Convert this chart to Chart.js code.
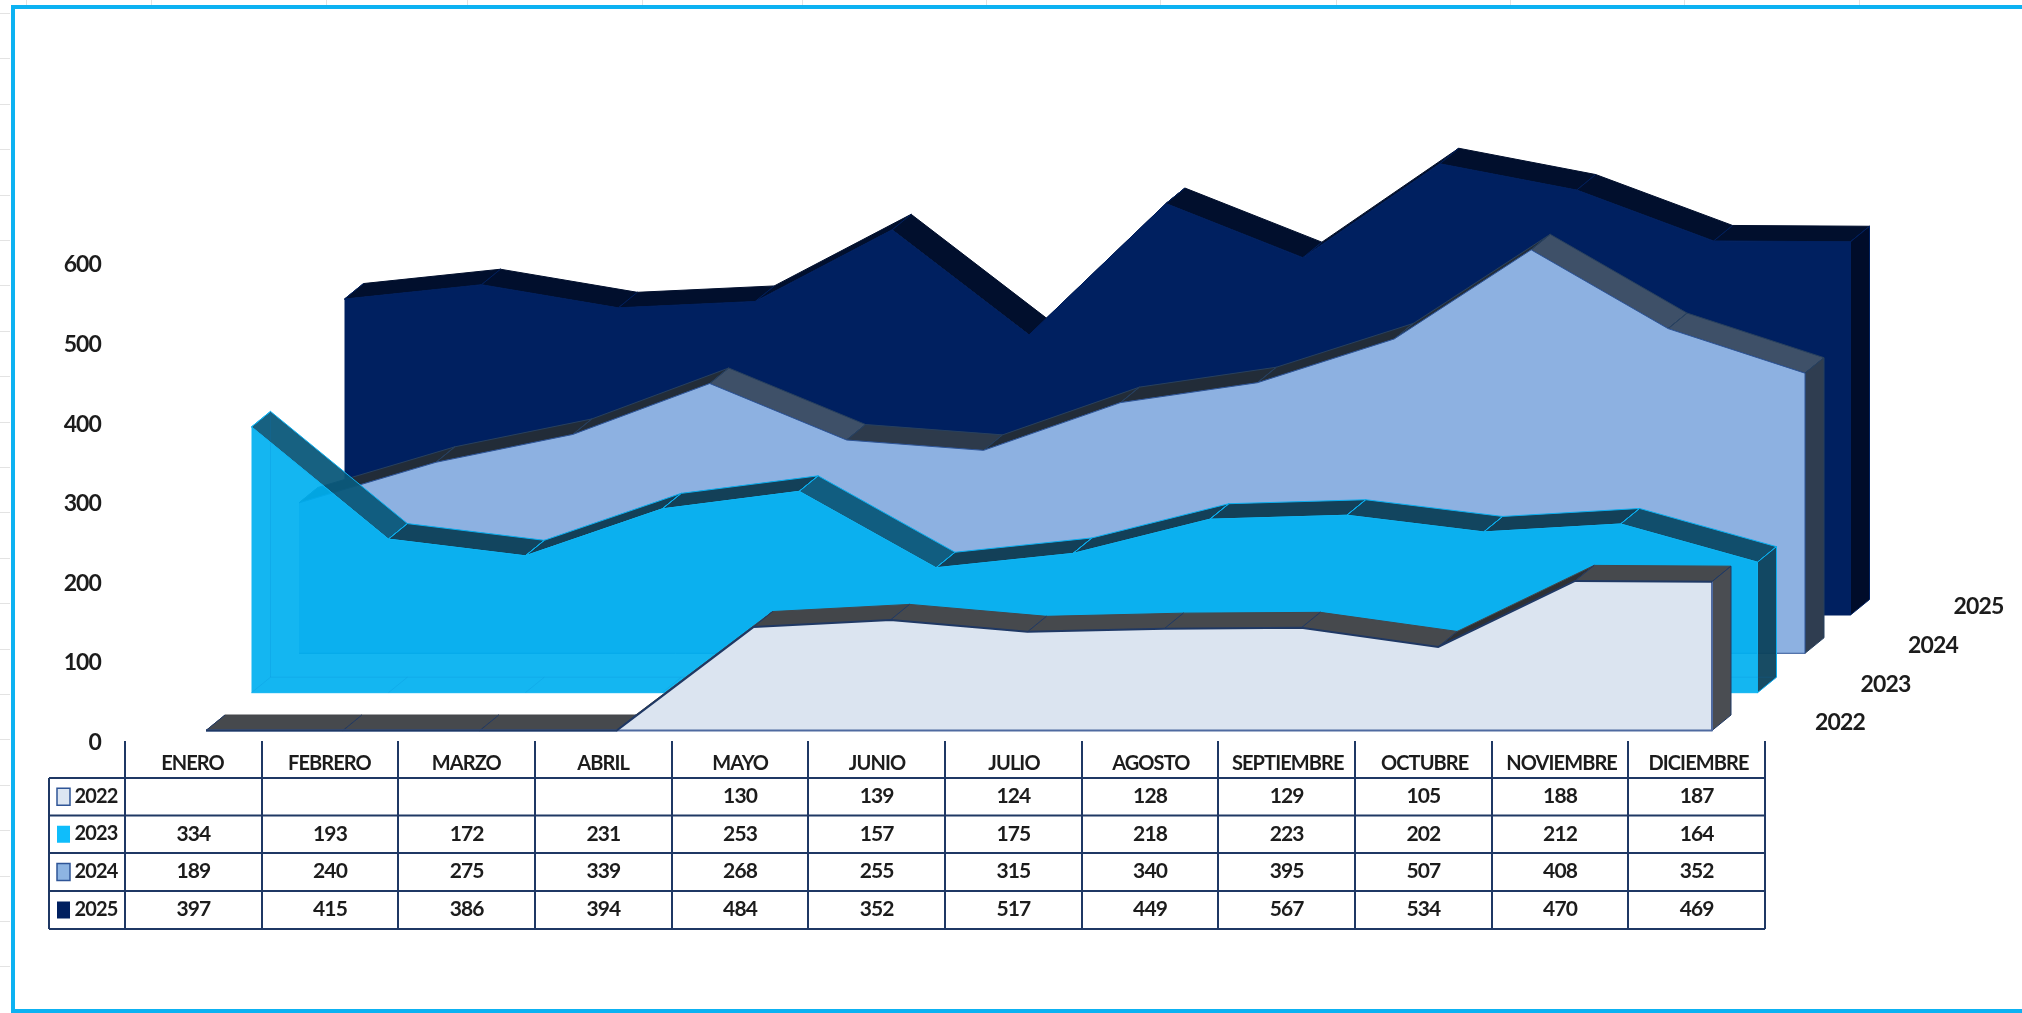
<!DOCTYPE html>
<html><head><meta charset="utf-8">
<style>html,body{margin:0;padding:0;background:#fff;overflow:hidden}canvas{display:block}</style>
<script src="https://cdn.jsdelivr.net/npm/chart.js@4"></script>
</head><body><canvas id="c" width="2022" height="1013"></canvas>
<script>
const categories = ['ENERO','FEBRERO','MARZO','ABRIL','MAYO','JUNIO','JULIO','AGOSTO','SEPTIEMBRE','OCTUBRE','NOVIEMBRE','DICIEMBRE'];
const seriesNames = ['2022','2023','2024','2025'];
const values2022 = [null,null,null,null,130,139,124,128,129,105,188,187];
const values2023 = [334,193,172,231,253,157,175,218,223,202,212,164];
const values2024 = [189,240,275,339,268,255,315,340,395,507,408,352];
const values2025 = [397,415,386,394,484,352,517,449,567,534,470,469];
const allValues = [values2022,values2023,values2024,values2025];
const yTicks = [0,100,200,300,400,500,600];

const FONT = 'Lato,sans-serif';
const NAVY = '#1F3864';
const DEPTH = {x:19, y:-15.5};
const STYLE = [
 {dx:0,    dy:0,     fill:'#DBE4F0', line:NAVY,      edge:'#44474B', joint:NAVY,      side:'#4A4D52', low:'#2E3034', high:'#46494D', from:40, to:5,  key:'#DCE6F2', keyB:'#2F5597'},
 {dx:45.5, dy:-37.8, fill:'rgba(0,176,240,.92)', line:'#10B4F2', edge:'#0AAFF0', joint:'#0AAFF0', side:'rgba(12,66,92,.95)', low:'rgba(13,58,80,.95)', high:'rgba(11,88,122,.95)', from:-5, to:-90, key:'#0FBDFB', keyB:null},
 {dx:93,   dy:-77.2, fill:'#8DB1E1', line:'#2F5597', edge:'#27405F', joint:'#27405F', side:'#2F3D50', low:'#222C38', high:'#3E5068', from:5, to:-40, key:'#8DB4E2', keyB:'#2F5597'},
 {dx:138.5,dy:-115.5,fill:'#002060', line:'#002060', edge:'#010F2D', joint:'#002060', side:'#000C2A', low:'#010F2D', high:'#010F2D', from:0, to:-50, key:'#002060', keyB:null}
];

function parseColor(c){
  if(c[0]==='#'){return [parseInt(c.slice(1,3),16),parseInt(c.slice(3,5),16),parseInt(c.slice(5,7),16),1];}
  return c.match(/[\d.]+/g).map(Number);
}
function mix(a,b,t){
  const A=parseColor(a),B=parseColor(b);
  const v=A.map((x,i)=>x+(B[i]-x)*t);
  return `rgba(${v[0]|0},${v[1]|0},${v[2]|0},${v[3]})`;
}
function poly(ctx,p){ctx.beginPath();p.forEach((q,i)=>i?ctx.lineTo(q[0],q[1]):ctx.moveTo(q[0],q[1]));ctx.closePath();}

const area3d = {
  id:'area3d',
  beforeDraw(chart){
    const {ctx,width,height}=chart;
    ctx.letterSpacing='-0.9px';
    ctx.save();
    ctx.fillStyle='#fff';ctx.fillRect(0,0,width,height);
    ctx.strokeStyle='#E3E3E3';ctx.lineWidth=1;
    [26,151,326,467,642,802,986,1160,1336,1510,1684,1859].forEach(x=>{ctx.beginPath();ctx.moveTo(x+.5,0);ctx.lineTo(x+.5,6);ctx.stroke();});
    for(let y=13;y<1010;y+=45.4){ctx.beginPath();ctx.moveTo(0,Math.round(y)+.5);ctx.lineTo(10,Math.round(y)+.5);ctx.stroke();}
    ctx.fillStyle='#0DB2F2';
    ctx.fillRect(11,5,2011,4);
    ctx.fillRect(11,5,4,1008);
    ctx.fillRect(11,1009,2011,4);
    ctx.restore();
  },
  beforeDatasetDraw(chart,{index,meta}){
    const ctx=chart.ctx,s=STYLE[index],pts=meta.data,vals=meta._parsed.map(p=>p.y);
    const base=chart.scales.y.getPixelForValue(0);
    ctx.save();
    ctx.translate(s.dx,s.dy);
    ctx.lineJoin='round';
    // top ribbons
    for(let k=0;k<pts.length-1;k++){
      const a=pts[k],b=pts[k+1];
      const diff=vals[k+1]-vals[k];
      const t=Math.max(0,Math.min(1,(s.from-diff)/(s.from-s.to)));
      ctx.fillStyle=mix(s.low,s.high,t);
      poly(ctx,[[a.x,a.y],[b.x,b.y],[b.x+DEPTH.x,b.y+DEPTH.y],[a.x+DEPTH.x,a.y+DEPTH.y]]);
      ctx.fill();
      ctx.strokeStyle=s.edge;ctx.lineWidth=1;ctx.stroke();
    }
    ctx.strokeStyle=s.joint;ctx.lineWidth=1;
    ctx.beginPath();
    pts.forEach(p=>{ctx.moveTo(p.x,p.y);ctx.lineTo(p.x+DEPTH.x,p.y+DEPTH.y);});
    ctx.stroke();
    // right side face
    const L=pts[pts.length-1];
    ctx.fillStyle=s.side;
    poly(ctx,[[L.x,L.y],[L.x+DEPTH.x,L.y+DEPTH.y],[L.x+DEPTH.x,base+DEPTH.y],[L.x,base]]);
    ctx.fill();
    ctx.strokeStyle=s.joint;ctx.lineWidth=1;ctx.stroke();
    // front face
    ctx.beginPath();
    ctx.moveTo(pts[0].x,base);
    pts.forEach(p=>ctx.lineTo(p.x,p.y));
    ctx.lineTo(L.x,base);
    ctx.closePath();
    ctx.fillStyle=s.fill;ctx.fill();
    ctx.beginPath();ctx.moveTo(pts[0].x,base);ctx.lineTo(L.x,base);ctx.lineTo(L.x,L.y);
    ctx.strokeStyle=index===0?'#4F6AA0':s.line;ctx.lineWidth=index===0?2:1;ctx.stroke();
    // faint back edges seen through the translucent series
    if(index===1){
      ctx.strokeStyle='rgba(0,120,200,.16)';ctx.lineWidth=1;
      ctx.beginPath();
      ctx.moveTo(pts[0].x+DEPTH.x,pts[0].y+DEPTH.y);ctx.lineTo(pts[0].x+DEPTH.x,base+DEPTH.y);ctx.lineTo(L.x+DEPTH.x,base+DEPTH.y);
      pts.forEach(p=>{ctx.moveTo(p.x,base);ctx.lineTo(p.x+DEPTH.x,base+DEPTH.y);});
      ctx.stroke();
    }
  },
  afterDatasetDraw(chart){chart.ctx.restore();},
  afterDraw(chart){
    const {ctx}=chart;
    const x0=125,w=136.67,headTop=741,rows=[778,815.5,853,891,929],left=49;
    const xEnd=x0+w*12;
    ctx.save();
    ctx.strokeStyle=NAVY;ctx.lineWidth=2;
    ctx.beginPath();
    for(let i=0;i<=12;i++){const x=Math.round(x0+w*i);ctx.moveTo(x,headTop);ctx.lineTo(x,rows[4]);}
    rows.forEach(y=>{ctx.moveTo(left,y);ctx.lineTo(xEnd,y);});
    ctx.moveTo(left,rows[0]);ctx.lineTo(left,rows[4]);
    ctx.stroke();
    ctx.fillStyle='#1c1c1c';ctx.textBaseline='middle';ctx.textAlign='center';
    seriesNames.forEach((name,r)=>{
      const yc=(rows[r]+rows[r+1])/2;
      const s=STYLE[r];
      ctx.fillStyle=s.key;ctx.fillRect(57,yc-8.5,13,17);
      if(s.keyB){ctx.strokeStyle=s.keyB;ctx.lineWidth=1.5;ctx.strokeRect(57,yc-8.5,13,17);}
      ctx.fillStyle='#1c1c1c';
      ctx.font='bold 20px '+FONT;
      ctx.fillText(name,96,yc-.5);
      ctx.font='bold 21px '+FONT;
      allValues[r].forEach((v,i)=>{ if(v!==null) ctx.fillText(String(v),x0+w*(i+.5),yc-.5); });
      // depth-axis label
      ctx.font='bold 23px '+FONT;
      ctx.fillText(name,1840+s.dx,722.5+s.dy);
    });
    ctx.restore();
  }
};

new Chart(document.getElementById('c'),{
  type:'line',
  data:{
    labels:categories,
    datasets:allValues.map((vals,i)=>({
      label:seriesNames[i],
      data:vals.map(v=>v===null?0:v),
      borderColor:STYLE[i].line,
      borderWidth:i===0?2:1,
      pointRadius:0,
      tension:0,
      fill:false,
      clip:false
    }))
  },
  options:{
    responsive:false,
    animation:false,
    events:[],
    layout:{autoPadding:false,padding:{left:0,right:310,top:253,bottom:182.5}},
    plugins:{legend:{display:false},tooltip:{enabled:false},title:{display:false}},
    scales:{
      x:{
        type:'category',
        offset:false,
        afterFit(s){s.height=100;},
        grid:{display:false,drawTicks:false},
        border:{display:false},
        ticks:{autoSkip:false,maxRotation:0,minRotation:0,padding:21,labelOffset:-13.5,color:'#1c1c1c',font:{family:FONT,size:20,weight:'bold'}}
      },
      y:{
        min:0,max:600,
        afterFit(s){s.width=206;},
        afterBuildTicks(s){s.ticks=yTicks.map(v=>({value:v}));},
        grid:{display:false,drawTicks:false},
        border:{display:false},
        ticks:{padding:105,labelOffset:12,color:'#1c1c1c',font:{family:FONT,size:23,weight:'bold'}}
      }
    }
  },
  plugins:[area3d]
});
</script></body></html>
